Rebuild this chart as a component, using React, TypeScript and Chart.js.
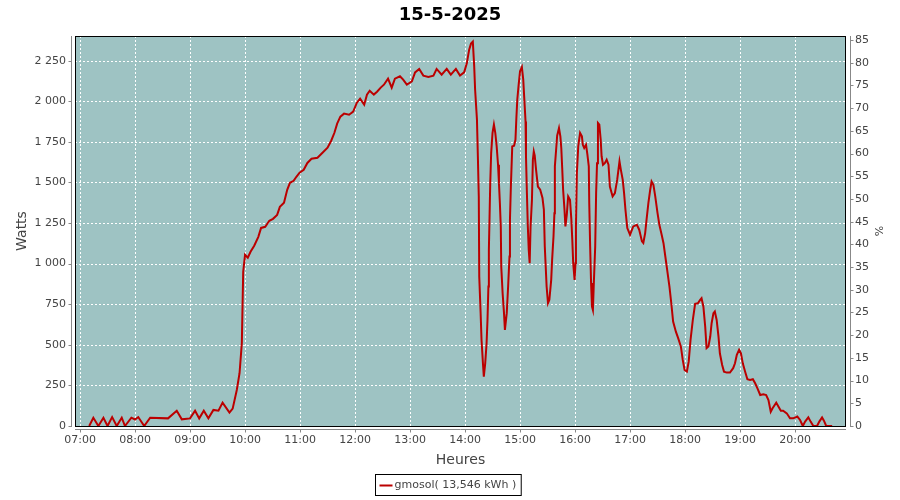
import { useEffect, useRef } from "react";
import { Chart, registerables } from "chart.js";

Chart.register(...registerables);

const chartTitle = "15-5-2025";
const seriesLabel = "gmosol( 13,546 kWh )";
const xTitle = "Heures";
const yLeftTitle = "Watts";
const yRightTitle = "%";

// tick values
const hourTicks = [420, 480, 540, 600, 660, 720, 780, 840, 900, 960, 1020, 1080, 1140, 1200];
const wattTicks = [0, 250, 500, 750, 1000, 1250, 1500, 1750, 2000, 2250];
const pctTicks = [0, 5, 10, 15, 20, 25, 30, 35, 40, 45, 50, 55, 60, 65, 70, 75, 80, 85];

// time in minutes since midnight
const minutes = [
  430, 434.5, 440, 445.5, 450, 455, 460, 465.5, 469, 476, 480, 483.5, 490, 496.5, 516, 525.5, 531, 540, 545.5, 550,
  555, 560, 565.5, 571, 575.5, 583, 586.5, 591, 594, 596.5, 598, 600, 603, 606, 610, 614.5, 617.5, 622, 626.5, 630.5,
  635, 638, 642.5, 646, 649, 653, 656, 659.5, 664, 668, 672.5, 679, 684.5, 690, 694, 697.5, 700.5, 704, 708, 713.5,
  718, 722, 725.5, 730, 733, 736, 740.5, 744, 748, 751.5, 756, 760, 763.5, 769, 772.5, 776.5, 782, 785.5, 790, 794.5,
  800, 805.5, 809, 814.5, 820, 824.5, 830, 834.5, 839, 842, 844.5, 846.5, 848.5, 850, 851, 853, 854, 855, 855.5, 857,
  858, 859.5, 860.5, 862, 863.5, 864.5, 865.5, 866, 867.5, 868.5, 870, 871.5, 873, 874.5, 876, 877, 878, 879, 879.5, 881,
  882.5, 883.5, 885.5, 887, 888.5, 889, 890, 891.5, 893.5, 895, 896, 897, 898.5, 900, 902, 903.5, 904.5, 906, 906.5, 907.5,
  908.5, 909.5, 910.5, 911.5, 913, 914, 915, 916, 917.5, 919.5, 922, 924.5, 926, 927, 928, 929, 930.5, 932, 934, 935,
  936.5, 937.5, 938, 939.5, 940.5, 942.5, 944, 945, 946, 947, 948.5, 949.5, 951, 952.5, 954.5, 956, 957, 958, 959.5, 960.5,
  961, 962, 963.5, 965.5, 967.5, 968.5, 970, 972, 973.5, 975, 975.5, 976.5, 977.5, 978.5, 979.5, 980.5, 982, 983, 984, 985,
  986.5, 988, 989, 990.5, 992.5, 994.5, 996.5, 998, 1001, 1003.5, 1006, 1008.5, 1010, 1012, 1013.5, 1015, 1017, 1020, 1023.5, 1027.5,
  1030, 1033, 1034.5, 1036.5, 1038, 1040, 1042, 1043.5, 1045.5, 1047.5, 1050, 1052, 1054.5, 1056.5, 1058.5, 1060.5, 1063, 1065, 1067, 1070,
  1072.5, 1075.5, 1077.5, 1079.5, 1082, 1084, 1086, 1088.5, 1091, 1094, 1096.5, 1098, 1100, 1102, 1103.5, 1105.5, 1107.5, 1109, 1111, 1112.5,
  1114.5, 1116.5, 1118, 1120.5, 1122.5, 1125.5, 1129, 1132.5, 1134.5, 1136.5, 1139, 1141, 1143, 1145.5, 1148, 1151, 1154, 1156.5, 1159, 1162,
  1165.5, 1168.5, 1171, 1173.5, 1175.5, 1179.5, 1182, 1184.5, 1187, 1191, 1194.5, 1198, 1202.5, 1205.5, 1208.5, 1211, 1214.5, 1217, 1220, 1224,
  1226.5, 1229.5, 1231.5, 1234, 1240.5,
];

const watts = [
  0, 51, 0, 51, 0, 55, 0, 51, 0, 51, 40, 55, 0, 51, 47, 94, 41, 47, 94, 47,
  94, 47, 99, 94, 144, 82, 107, 222, 325, 510, 950, 1054, 1036, 1073, 1110, 1165, 1220, 1227, 1264, 1276,
  1300, 1350, 1375, 1455, 1498, 1510, 1535, 1560, 1578, 1620, 1646, 1652, 1683, 1714, 1757, 1806, 1862, 1905, 1924, 1917,
  1936, 1991, 2016, 1979, 2041, 2065, 2041, 2059, 2084, 2102, 2139, 2084, 2139, 2154, 2133, 2102, 2123, 2178, 2199, 2158,
  2150, 2158, 2199, 2164, 2199, 2164, 2199, 2158, 2178, 2236, 2318, 2355, 2367, 2215, 2071, 1887, 1660, 1414, 920, 696,
  530, 388, 304, 386, 510, 653, 859, 1085, 1496, 1681, 1805, 1856, 1805, 1722, 1609, 1496, 1373, 1229, 982, 818,
  695, 592, 695, 859, 1044, 1270, 1475, 1722, 1726, 1763, 1897, 2010, 2102, 2185, 2211, 2133, 2030, 1876, 1660, 1434,
  1229, 1085, 1003, 1229, 1393, 1640, 1691, 1666, 1578, 1475, 1455, 1404, 1332, 1105, 982, 859, 756, 777, 900, 1023,
  1167, 1311, 1599, 1712, 1788, 1835, 1784, 1712, 1589, 1455, 1332, 1229, 1301, 1414, 1393, 1270, 1147, 1003, 900, 1003,
  1229, 1558, 1722, 1805, 1784, 1732, 1712, 1732, 1671, 1599, 1373, 1105, 880, 736, 715, 880, 1105, 1434, 1619, 1866,
  1856, 1763, 1660, 1609, 1619, 1640, 1609, 1475, 1414, 1434, 1517, 1630, 1578, 1517, 1434, 1332, 1219, 1178, 1229, 1239,
  1209, 1137, 1127, 1188, 1270, 1373, 1455, 1506, 1486, 1414, 1311, 1239, 1178, 1126, 1044, 962, 859, 756, 643, 581,
  541, 489, 407, 345, 335, 396, 530, 653, 752, 756, 777, 787, 736, 612, 479, 489, 551, 633, 695, 705,
  653, 551, 448, 376, 335, 329, 329, 356, 386, 438, 469, 448, 386, 335, 288, 284, 288, 263, 232, 191,
  195, 191, 160, 88, 109, 144, 119, 94, 94, 78, 47, 47, 58, 37, 0, 27, 53, 27, 0, 0,
  27, 53, 33, 0, 0,
];

const X_MIN = 414.5;
const X_MAX = 1255.6;
const Y_MAX = 2402;
const Y2_MAX = 85.9;

const PLOT_BG = "#9ec3c3";
const LINE_COLOR = "#bb0000";
const TEXT_COLOR = "#444444";
const AXIS_COLOR = "#888888";
const FONT = "'DejaVu Sans', sans-serif";

function fmtHour(v: number): string {
  const h = Math.floor(v / 60);
  const m = Math.round(v - h * 60);
  return String(h).padStart(2, "0") + ":" + String(m).padStart(2, "0");
}
function fmtWatt(v: number): string {
  return String(v).replace(/\B(?=(\d{3})+(?!\d))/g, " ");
}

const decor = {
  id: "decor",
  beforeDraw(chart: any) {
    const { ctx, chartArea: a } = chart;
    ctx.save();
    ctx.fillStyle = "#ffffff";
    ctx.fillRect(0, 0, chart.width, chart.height);
    ctx.fillStyle = PLOT_BG;
    ctx.fillRect(a.left, a.top, a.right - a.left, a.bottom - a.top);
    ctx.strokeStyle = "#ffffff";
    ctx.lineWidth = 1;
    ctx.setLineDash([2, 2]);
    const xs = chart.scales.x;
    const ys = chart.scales.y;
    for (const v of hourTicks) {
      const px = Math.round(xs.getPixelForValue(v)) + 0.5;
      ctx.beginPath();
      ctx.moveTo(px, a.top);
      ctx.lineTo(px, a.bottom);
      ctx.stroke();
    }
    for (const v of wattTicks) {
      const py = Math.round(ys.getPixelForValue(v)) + 0.5;
      ctx.beginPath();
      ctx.moveTo(a.left, py);
      ctx.lineTo(a.right, py);
      ctx.stroke();
    }
    ctx.restore();
  },
  afterDatasetsDraw(chart: any) {
    const { ctx, chartArea: a } = chart;
    const xs = chart.scales.x;
    const ys = chart.scales.y;
    const y2 = chart.scales.y1;
    ctx.save();
    ctx.setLineDash([]);
    ctx.lineWidth = 1;
    ctx.strokeStyle = "#000000";
    ctx.strokeRect(a.left + 0.5, a.top + 0.5, a.right - a.left - 1, a.bottom - a.top);
    ctx.strokeStyle = AXIS_COLOR;
    // left axis
    const lx = a.left - 3.5;
    ctx.beginPath();
    ctx.moveTo(lx, a.top);
    ctx.lineTo(lx, a.bottom + 1);
    for (const v of wattTicks) {
      const py = Math.round(ys.getPixelForValue(v)) + 0.5;
      ctx.moveTo(lx, py);
      ctx.lineTo(lx - 3, py);
    }
    // right axis
    const rx = a.right + 4.5;
    ctx.moveTo(rx, a.top);
    ctx.lineTo(rx, a.bottom + 1);
    for (const v of pctTicks) {
      const py = Math.round(y2.getPixelForValue(v)) + 0.5;
      ctx.moveTo(rx, py);
      ctx.lineTo(rx + 3, py);
    }
    // bottom axis
    const by = a.bottom + 3.5;
    ctx.moveTo(a.left, by);
    ctx.lineTo(a.right, by);
    for (const v of hourTicks) {
      const px = Math.round(xs.getPixelForValue(v)) + 0.5;
      ctx.moveTo(px, by);
      ctx.lineTo(px, by + 3);
    }
    ctx.stroke();
    ctx.restore();
  },
  afterDraw(chart: any) {
    const { ctx, chartArea: a } = chart;
    ctx.save();
    // title
    ctx.fillStyle = "#000000";
    ctx.font = `bold 18px ${FONT}`;
    ctx.textAlign = "center";
    ctx.textBaseline = "middle";
    ctx.fillText(chartTitle, 450, 15);
    // axis titles
    ctx.fillStyle = TEXT_COLOR;
    ctx.font = `14px ${FONT}`;
    ctx.fillText(xTitle, (a.left + a.right) / 2, 460);
    ctx.save();
    ctx.translate(22, (a.top + a.bottom) / 2);
    ctx.rotate(-Math.PI / 2);
    ctx.fillText(yLeftTitle, 0, 0);
    ctx.restore();
    ctx.save();
    ctx.font = `11px ${FONT}`;
    ctx.translate(880, (a.top + a.bottom) / 2);
    ctx.rotate(-Math.PI / 2);
    ctx.fillText(yRightTitle, 0, 0);
    ctx.restore();
    // legend
    ctx.font = `11px ${FONT}`;
    const tw = ctx.measureText(seriesLabel).width;
    const boxW = 4 + 14 + 2 + tw + 4;
    const boxH = 21;
    const bx = Math.round(448 - boxW / 2) + 0.5;
    const byy = 474.5;
    ctx.strokeStyle = "#000000";
    ctx.lineWidth = 1;
    ctx.strokeRect(bx, byy, boxW, boxH);
    ctx.strokeStyle = LINE_COLOR;
    ctx.lineWidth = 2;
    ctx.beginPath();
    ctx.moveTo(bx + 4, byy + 11);
    ctx.lineTo(bx + 17, byy + 11);
    ctx.stroke();
    ctx.fillStyle = TEXT_COLOR;
    ctx.textAlign = "left";
    ctx.textBaseline = "middle";
    ctx.fillText(seriesLabel, bx + 19, byy + 11);
    ctx.restore();
  },
};

export default function App() {
  const ref = useRef<HTMLCanvasElement | null>(null);
  useEffect(() => {
    if (!ref.current) return;
    const tickFont = { family: FONT, size: 11 };
    const chart = new Chart(ref.current, {
      type: "line",
      data: {
        datasets: [
          {
            label: seriesLabel,
            data: minutes.map((m, i) => ({ x: m, y: watts[i] })),
            borderColor: LINE_COLOR,
            backgroundColor: LINE_COLOR,
            borderWidth: 2,
            pointRadius: 0,
            tension: 0,
            yAxisID: "y",
            xAxisID: "x",
          },
        ],
      },
      options: {
        animation: false,
        responsive: false,
        maintainAspectRatio: false,
        layout: { padding: { top: 36, left: 0, right: 0, bottom: 0 } },
        plugins: {
          legend: { display: false },
          title: { display: false },
          tooltip: { enabled: false },
        },
        scales: {
          x: {
            type: "linear",
            position: "bottom",
            min: X_MIN,
            max: X_MAX,
            afterBuildTicks: (s: any) => {
              s.ticks = hourTicks.map((v) => ({ value: v }));
            },
            afterFit: (s: any) => {
              s.height = 74;
            },
            grid: { display: false, drawTicks: false },
            border: { display: false },
            ticks: {
              autoSkip: false,
              maxRotation: 0,
              padding: 8,
              color: TEXT_COLOR,
              font: tickFont,
              callback: (v: any) => fmtHour(Number(v)),
            },
          },
          y: {
            type: "linear",
            position: "left",
            min: 0,
            max: Y_MAX,
            afterBuildTicks: (s: any) => {
              s.ticks = wattTicks.map((v) => ({ value: v }));
            },
            afterFit: (s: any) => {
              s.width = 75;
            },
            grid: { display: false, drawTicks: false },
            border: { display: false },
            ticks: {
              autoSkip: false,
              padding: 9,
              color: TEXT_COLOR,
              font: tickFont,
              callback: (v: any) => fmtWatt(Number(v)),
            },
          },
          y1: {
            type: "linear",
            position: "right",
            min: 0,
            max: Y2_MAX,
            afterBuildTicks: (s: any) => {
              s.ticks = pctTicks.map((v) => ({ value: v }));
            },
            afterFit: (s: any) => {
              s.width = 54;
            },
            grid: { display: false, drawTicks: false },
            border: { display: false },
            ticks: {
              autoSkip: false,
              padding: 9,
              color: TEXT_COLOR,
              font: tickFont,
              callback: (v: any) => String(v),
            },
          },
        },
      },
      plugins: [decor],
    });
    return () => chart.destroy();
  }, []);
  return (
    <div style={{ position: "fixed", left: 0, top: 0, width: 900, height: 500 }}>
      <canvas ref={ref} width={900} height={500} style={{ display: "block", width: 900, height: 500 }} />
    </div>
  );
}
